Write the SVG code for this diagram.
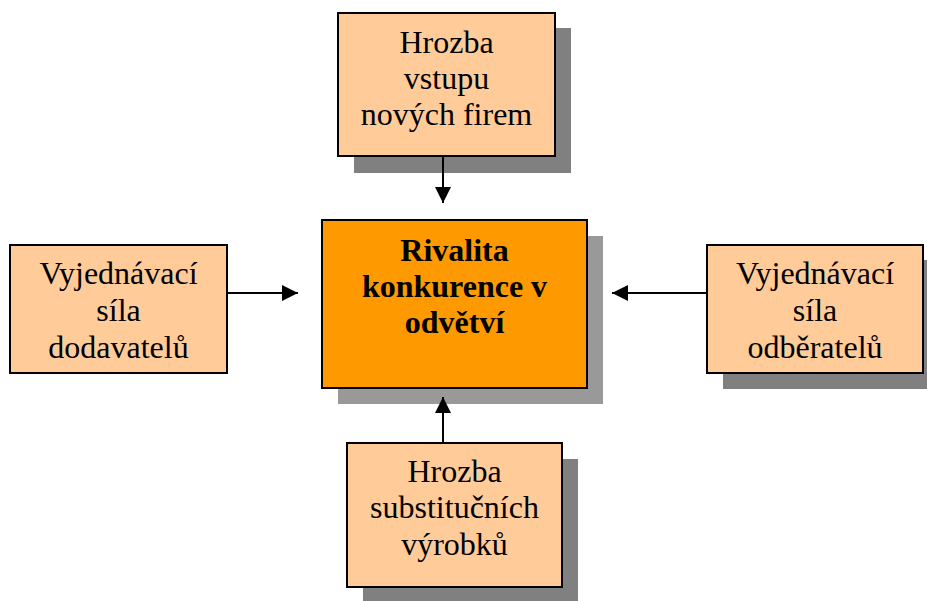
<svg xmlns="http://www.w3.org/2000/svg" width="927" height="601" viewBox="0 0 927 601">
<defs>
<style>
.box{fill:#FFCC99;stroke:#000;stroke-width:2}
.core{fill:#FF9900;stroke:#000;stroke-width:2}
.sh{fill:#808080}
.sh2{fill:#999999}
text{font-family:"Liberation Serif","Times New Roman",serif;font-size:32px;fill:#000;text-anchor:middle}
.b{font-weight:bold}
.con{stroke:#000;stroke-width:2;fill:none;marker-end:url(#ah)}
</style>
<marker id="ah" markerUnits="userSpaceOnUse" markerWidth="16" markerHeight="16" viewBox="0 0 16 16" refX="16" refY="8" orient="auto">
<path d="M0,0 L16,8 L0,16 Z" fill="#000"/>
</marker>
</defs>
<g id="n-top">
<rect class="sh" x="354" y="28" width="217" height="145"/>
<rect class="box" x="338" y="13" width="217" height="143"/>
<text x="446.5" y="53">Hrozba</text>
<text x="446.5" y="89">vstupu</text>
<text x="446.5" y="125">nových firem</text>
</g>
<g id="n-center">
<rect class="sh2" x="338" y="236" width="265" height="168"/>
<rect class="core" x="322" y="220" width="265" height="168"/>
<text class="b" x="454.5" y="261">Rivalita</text>
<text class="b" x="454.5" y="297">konkurence v</text>
<text class="b" x="454.5" y="333">odvětví</text>
</g>
<g id="n-left">
<rect class="box" x="10" y="245" width="217" height="128"/>
<text x="118.5" y="284">Vyjednávací</text>
<text x="118.5" y="321">síla</text>
<text x="118.5" y="358">dodavatelů</text>
</g>
<g id="n-right">
<rect class="sh" x="723" y="260" width="216" height="129"/>
<rect class="box" x="707" y="245" width="216" height="128"/>
<text x="815" y="284">Vyjednávací</text>
<text x="815" y="321">síla</text>
<text x="815" y="358">odběratelů</text>
</g>
<g id="n-bottom">
<rect class="sh" x="363" y="459" width="215" height="144"/>
<rect class="box" x="347" y="443" width="215" height="144"/>
<text x="454.5" y="482">Hrozba</text>
<text x="454.5" y="518">substitučních</text>
<text x="454.5" y="555">výrobků</text>
</g>
<g id="connectors">
<line class="con" x1="443" y1="157" x2="443" y2="203"/>
<line class="con" x1="227" y1="293" x2="298" y2="293"/>
<line class="con" x1="707" y1="293" x2="612" y2="293"/>
<line class="con" x1="443" y1="442" x2="443" y2="397"/>
</g>
</svg>
